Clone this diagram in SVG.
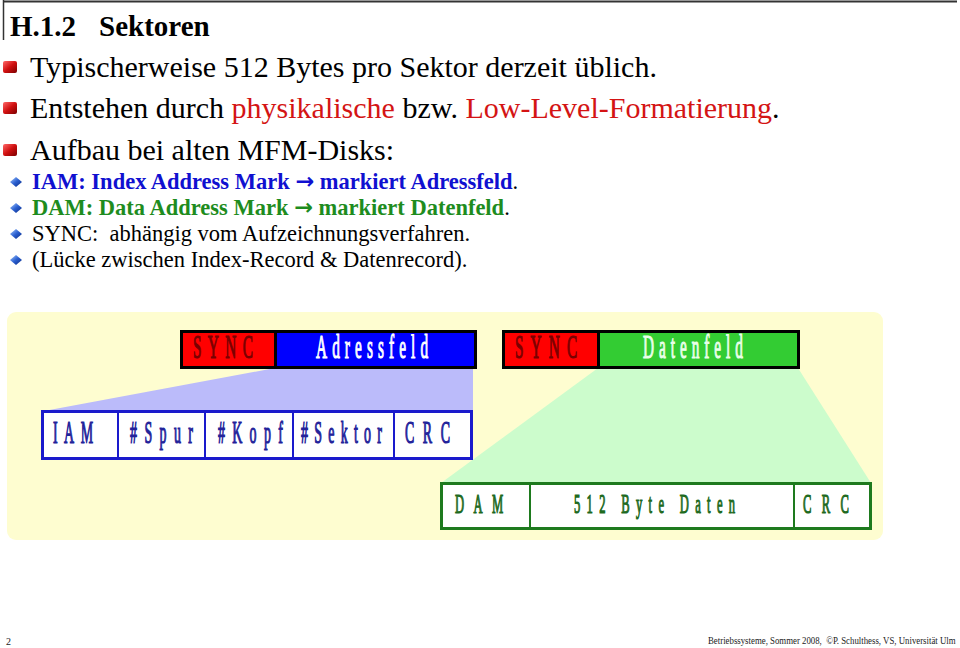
<svg xmlns="http://www.w3.org/2000/svg" width="960" height="648" viewBox="0 0 960 648">
<defs>
<linearGradient id="rb" x1="0" y1="0" x2="1" y2="1">
<stop offset="0" stop-color="#ff6a6a"/><stop offset="0.5" stop-color="#d01010"/><stop offset="1" stop-color="#7a0000"/>
</linearGradient>
<linearGradient id="bd" x1="0" y1="0" x2="1" y2="1">
<stop offset="0" stop-color="#a8ccff"/><stop offset="0.5" stop-color="#2a5fd0"/><stop offset="1" stop-color="#0a2a80"/>
</linearGradient>
<symbol id="sq" overflow="visible"><rect x="0" y="0" width="14" height="12" rx="2" fill="url(#rb)"/></symbol>
<symbol id="dm" overflow="visible"><polygon points="6,0 12,5 6,10 0,5" fill="url(#bd)"/></symbol>
</defs>
<style>
.t{font-family:"Liberation Serif","Times New Roman",serif;}
.main{font-size:30px;fill:#000;}
.sub{font-size:22.5px;}
.blk{fill:#000;}
.blu{fill:#1010d0;font-weight:bold;}
.grn{fill:#1e8c1e;font-weight:bold;}
.lbl{font-family:"Liberation Serif","Times New Roman",serif;stroke-width:1.2;}
.red{fill:#d41414;}
.ar{font-family:"DejaVu Sans",sans-serif;font-weight:bold;}
</style>
<g id="frame">
<line x1="3" y1="1.5" x2="957" y2="1.5" stroke="#333" stroke-width="2"/>
<line x1="3.5" y1="0" x2="3.5" y2="40" stroke="#333" stroke-width="1.5"/>
</g>
<g id="title"><text class="t" x="10" y="36" font-size="29" font-weight="bold">H.1.2<tspan x="99">Sektoren</tspan></text></g>
<g id="bullets">
<use href="#sq" x="3" y="61"/>
<text class="t main" x="30" y="77">Typischerweise 512 Bytes pro Sektor derzeit üblich.</text>
<use href="#sq" x="3" y="102"/>
<text class="t main" x="30" y="118">Entstehen durch <tspan class="red">physikalische</tspan> bzw. <tspan class="red">Low-Level-Formatierung</tspan>.</text>
<use href="#sq" x="3" y="144"/>
<text class="t main" x="30" y="160">Aufbau bei alten MFM-Disks:</text>
<use href="#dm" x="10" y="177"/>
<text class="t sub blu" x="32" y="189">IAM: Index Address Mark <tspan class="ar">→</tspan> markiert Adressfeld<tspan style="fill:#000;font-weight:normal">.</tspan></text>
<use href="#dm" x="10" y="203"/>
<text class="t sub grn" x="32" y="215">DAM: Data Address Mark <tspan class="ar">→</tspan> markiert Datenfeld<tspan style="fill:#000;font-weight:normal">.</tspan></text>
<use href="#dm" x="10" y="229"/>
<text class="t sub blk" x="32" y="241" style="white-space:pre">SYNC:  abhängig vom Aufzeichnungsverfahren.</text>
<use href="#dm" x="10" y="255"/>
<text class="t sub blk" x="32" y="267">(Lücke zwischen Index-Record &amp; Datenrecord).</text>
</g>
<g id="background"><rect x="7" y="312" width="876" height="228" rx="9" fill="#fefdd0"/></g>
<g id="connectors">
<polygon points="275,368 473,368 473,411 44,411" fill="#bbbbfa"/>
<polygon points="598,368 798,368 871,483 441,483" fill="#ccfccc"/>
</g>
<g id="sector-top1">
<rect x="181.5" y="331.5" width="94" height="36" fill="#ff0000"/>
<rect x="275.5" y="331.5" width="200" height="36" fill="#0000ff"/>
<rect x="181.5" y="331.5" width="294" height="36" fill="none" stroke="#000" stroke-width="3"/>
<line x1="275.5" y1="331" x2="275.5" y2="368" stroke="#000" stroke-width="3"/>
<text class="lbl" transform="translate(193,358) scale(0.45,1)" font-size="34" fill="#7a0000" stroke="#7a0000" textLength="133" lengthAdjust="spacing">SYNC</text>
<text class="lbl" transform="translate(316,358) scale(0.45,1)" font-size="34" fill="#ffffff" stroke="#ffffff" textLength="249" lengthAdjust="spacing">Adressfeld</text>
</g>
<g id="sector-top2">
<rect x="503.5" y="331.5" width="95" height="36" fill="#ff0000"/>
<rect x="598.5" y="331.5" width="200" height="36" fill="#33cc33"/>
<rect x="503.5" y="331.5" width="295" height="36" fill="none" stroke="#000" stroke-width="3"/>
<line x1="598.5" y1="331" x2="598.5" y2="368" stroke="#000" stroke-width="3"/>
<text class="lbl" transform="translate(515,358) scale(0.45,1)" font-size="34" fill="#7a0000" stroke="#7a0000" textLength="138" lengthAdjust="spacing">SYNC</text>
<text class="lbl" transform="translate(643,358) scale(0.45,1)" font-size="34" fill="#eaffea" stroke="#eaffea" textLength="222" lengthAdjust="spacing">Datenfeld</text>
</g>
<g id="address-field">
<rect x="42.5" y="411.5" width="429" height="47" fill="#ffffff" stroke="#1a1acc" stroke-width="3"/>
<line x1="118" y1="411" x2="118" y2="459" stroke="#1a1acc" stroke-width="2"/>
<line x1="205" y1="411" x2="205" y2="459" stroke="#1a1acc" stroke-width="2"/>
<line x1="293" y1="411" x2="293" y2="459" stroke="#1a1acc" stroke-width="2"/>
<line x1="394" y1="411" x2="394" y2="459" stroke="#1a1acc" stroke-width="2"/>
<g class="lbl" font-size="31" fill="#22229a" stroke="#22229a">
<text transform="translate(53,443) scale(0.45,1)" textLength="89" lengthAdjust="spacing">IAM</text>
<text transform="translate(130,443) scale(0.45,1)" textLength="140" lengthAdjust="spacing">#Spur</text>
<text transform="translate(218,443) scale(0.45,1)" textLength="144" lengthAdjust="spacing">#Kopf</text>
<text transform="translate(301,443) scale(0.45,1)" textLength="180" lengthAdjust="spacing">#Sektor</text>
<text transform="translate(405,443) scale(0.45,1)" textLength="100" lengthAdjust="spacing">CRC</text>
</g>
</g>
<g id="data-field">
<rect x="441.5" y="483.5" width="429" height="45" fill="#ffffff" stroke="#1e7a1e" stroke-width="3"/>
<line x1="530" y1="483" x2="530" y2="529" stroke="#1e7a1e" stroke-width="2"/>
<line x1="794" y1="483" x2="794" y2="529" stroke="#1e7a1e" stroke-width="2"/>
<g class="lbl" font-size="28" fill="#1e6a1e" stroke="#1e6a1e">
<text transform="translate(455,513) scale(0.45,1)" textLength="107" lengthAdjust="spacing">DAM</text>
<text transform="translate(574,513) scale(0.45,1)" textLength="358" lengthAdjust="spacing">512 Byte Daten</text>
<text transform="translate(803,513) scale(0.45,1)" textLength="102" lengthAdjust="spacing">CRC</text>
</g>
</g>
<g id="footer">
<text class="t" x="6" y="645" font-size="10" fill="#222">2</text>
<text class="t" transform="translate(708,644) scale(0.8,1)" font-size="11" fill="#222" style="white-space:pre">Betriebssysteme, Sommer 2008,  ©P. Schulthess, VS, Universität Ulm</text>
</g>
</svg>
